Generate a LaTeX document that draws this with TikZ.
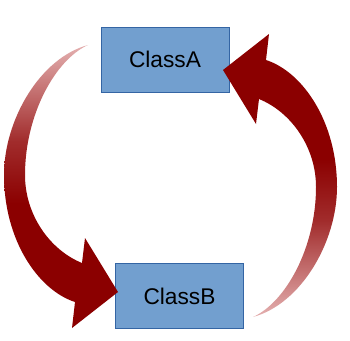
\documentclass[tikz,border=0pt]{standalone}
\usepackage{fontspec}
\setmainfont{Liberation Sans}
\definecolor{boxfill}{HTML}{729FCF}
\definecolor{boxline}{HTML}{3465A4}
\definecolor{arrowred}{RGB}{139,0,0}
\definecolor{arrowtail}{RGB}{228,176,176}
% fade from the tail (top of the bounding box) into solid red
\pgfdeclareverticalshading{arrowfade}{100bp}{color(0bp)=(arrowred); color(47bp)=(arrowred); color(58bp)=(arrowred!75!arrowtail); color(75bp)=(arrowtail); color(100bp)=(arrowtail)}
\tikzset{
  classbox/.style={draw=boxline, line width=0.6pt, fill=boxfill, minimum width=128pt, minimum height=65pt, inner sep=0pt, font=\fontsize{22.7pt}{26pt}\selectfont},
  bendarrow/.style={shading=arrowfade}
}
\begin{document}
\begin{tikzpicture}[x=1pt,y=-1pt]
\useasboundingbox (0,0) rectangle (350,340);
\node[classbox] (A) at (165,59.5) {ClassA};
\node[classbox] (B) at (179.5,296) {ClassB};
% curved arrow from A down to B, with a fading tail
\coordinate (tailL) at (88,45);
\coordinate (tipL) at (118,292);
\shade[bendarrow]
  (tailL) .. controls (40,58) and (4,120) .. (4,175)
          .. controls (4,240) and (38,290) .. (75,302)
  -- (72,328) -- (tipL) -- (85,238) -- (82,263)
          .. controls (50,250) and (25,215) .. (25,175)
          .. controls (25,115) and (55,60) .. (tailL) -- cycle;
% the same arrow turned half way round, from B back up to A
\begin{scope}[rotate around={180:(170.5,181)}]
\coordinate (tailR) at (88,45);
\coordinate (tipR) at (118,292);
\shade[bendarrow, shading angle=180]
  (tailR) .. controls (40,58) and (4,120) .. (4,175)
          .. controls (4,240) and (38,290) .. (75,302)
  -- (72,328) -- (tipR) -- (85,238) -- (82,263)
          .. controls (50,250) and (25,215) .. (25,175)
          .. controls (25,115) and (55,60) .. (tailR) -- cycle;
\end{scope}
\end{tikzpicture}
\end{document}
